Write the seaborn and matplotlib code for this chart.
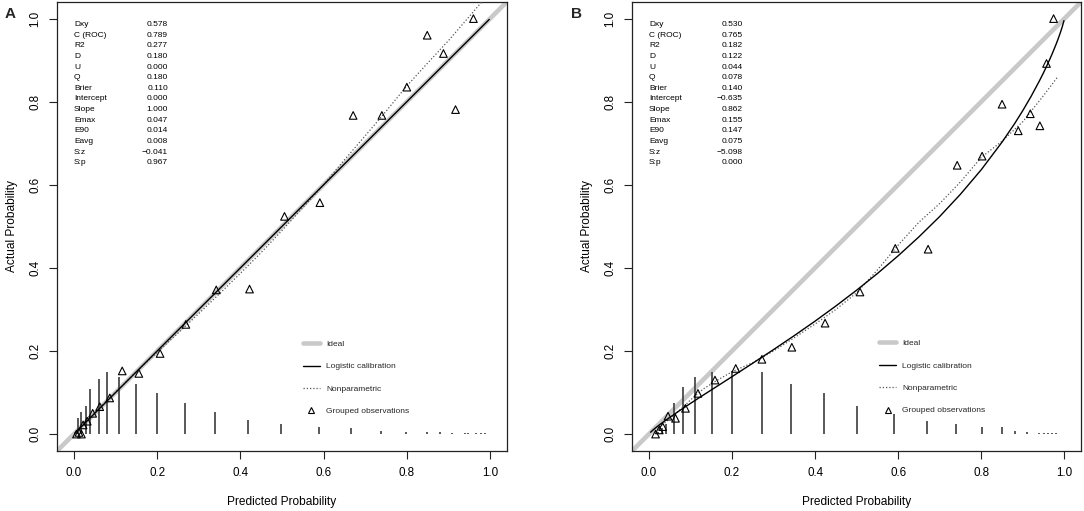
import matplotlib
matplotlib.use("Agg")
import matplotlib.pyplot as plt
from matplotlib.lines import Line2D
import seaborn as sns

# ---------------- data ----------------
stat_names = ["Dxy", "C (ROC)", "R2", "D", "U", "Q", "Brier", "Intercept",
              "Slope", "Emax", "E90", "Eavg", "S:z", "S:p"]
stats_A = [0.578, 0.789, 0.277, 0.180, 0.000, 0.180, 0.110, 0.000,
           1.000, 0.047, 0.014, 0.008, -0.041, 0.967]
stats_B = [0.530, 0.765, 0.182, 0.122, 0.044, 0.078, 0.140, -0.635,
           0.862, 0.155, 0.147, 0.075, -5.098, 0.000]

# grouped observations (triangles)
grp_x_A = [0.006, 0.012, 0.018, 0.022, 0.032, 0.045, 0.062, 0.086, 0.116, 0.156,
           0.207, 0.269, 0.342, 0.422, 0.506, 0.591, 0.671, 0.740, 0.800, 0.849,
           0.888, 0.917, 0.960]
grp_y_A = [0.000, 0.004, 0.000, 0.022, 0.031, 0.050, 0.066, 0.087, 0.152, 0.146,
           0.194, 0.264, 0.347, 0.349, 0.524, 0.557, 0.767, 0.767, 0.835, 0.960,
           0.916, 0.781, 1.000]
grp_x_B = [0.016, 0.025, 0.033, 0.046, 0.064, 0.088, 0.118, 0.159, 0.209, 0.272,
           0.344, 0.424, 0.508, 0.593, 0.672, 0.742, 0.802, 0.850, 0.889, 0.918,
           0.941, 0.957, 0.974]
grp_y_B = [0.000, 0.010, 0.018, 0.043, 0.038, 0.062, 0.098, 0.130, 0.158, 0.180,
           0.209, 0.267, 0.342, 0.447, 0.445, 0.647, 0.669, 0.794, 0.730, 0.771,
           0.742, 0.892, 1.000]

# spike histogram of predicted probabilities
spk_x_A = [0.009, 0.018, 0.029, 0.038, 0.060, 0.079, 0.109, 0.149, 0.199, 0.268,
           0.339, 0.419, 0.498, 0.588, 0.667, 0.739, 0.799, 0.848, 0.879, 0.908,
           0.939, 0.947, 0.967, 0.979, 0.989]
spk_h_A = [0.038, 0.052, 0.068, 0.108, 0.133, 0.149, 0.138, 0.120, 0.100, 0.076,
           0.052, 0.035, 0.024, 0.017, 0.014, 0.008, 0.006, 0.004, 0.004, 0.003,
           0.002, 0.002, 0.002, 0.002, 0.002]
spk_x_B = [0.021, 0.032, 0.042, 0.060, 0.081, 0.111, 0.151, 0.201, 0.271, 0.341,
           0.421, 0.501, 0.590, 0.670, 0.740, 0.801, 0.851, 0.880, 0.911, 0.940,
           0.951, 0.960, 0.970, 0.980]
spk_h_B = [0.006, 0.014, 0.024, 0.076, 0.113, 0.137, 0.149, 0.151, 0.149, 0.121,
           0.100, 0.068, 0.048, 0.032, 0.024, 0.018, 0.016, 0.008, 0.006, 0.003,
           0.003, 0.003, 0.003, 0.003]

# ideal line
ideal_x = [-0.1, 1.1]
ideal_y = [-0.1, 1.1]

# logistic calibration curves
log_x_A = [0.002, 0.25, 0.5, 0.75, 0.998]
log_y_A = [0.002, 0.25, 0.5, 0.75, 0.998]
log_x_B = [0.004, 0.01, 0.02, 0.03, 0.05, 0.075, 0.10, 0.125, 0.15, 0.175, 0.20,
           0.25, 0.30, 0.35, 0.40, 0.45, 0.50, 0.55, 0.60, 0.65, 0.70, 0.75, 0.80,
           0.85, 0.88, 0.90, 0.92, 0.94, 0.95, 0.96, 0.97, 0.98, 0.985, 0.99,
           0.995, 0.999]
log_y_B = [0.0045, 0.0100, 0.0182, 0.0258, 0.0402, 0.0573, 0.0738, 0.0901, 0.1061,
           0.1221, 0.1382, 0.1706, 0.2034, 0.2371, 0.2719, 0.3083, 0.3464, 0.3865,
           0.4292, 0.4748, 0.5238, 0.5775, 0.6364, 0.7028, 0.7469, 0.7788, 0.8131,
           0.8503, 0.8702, 0.8914, 0.9138, 0.9382, 0.9513, 0.9653, 0.9807, 0.9951]

# nonparametric curves
np_x_A = [0.003, 0.05, 0.10, 0.15, 0.20, 0.25, 0.30, 0.35, 0.40, 0.45, 0.50, 0.55,
          0.60, 0.65, 0.70, 0.75, 0.80, 0.85, 0.90, 0.95, 0.99]
np_y_A = [0.002, 0.051, 0.101, 0.150, 0.197, 0.243, 0.290, 0.338, 0.387, 0.437,
          0.490, 0.545, 0.600, 0.660, 0.718, 0.777, 0.838, 0.893, 0.947, 1.005, 1.052]
np_x_B = [0.015, 0.03, 0.05, 0.08, 0.10, 0.13, 0.16, 0.20, 0.25, 0.30, 0.35, 0.40,
          0.45, 0.50, 0.55, 0.60, 0.65, 0.70, 0.75, 0.80, 0.85, 0.90, 0.95, 0.984]
np_y_B = [0.005, 0.020, 0.037, 0.063, 0.082, 0.108, 0.127, 0.150, 0.172, 0.200,
          0.232, 0.265, 0.300, 0.340, 0.395, 0.455, 0.510, 0.555, 0.607, 0.666,
          0.705, 0.752, 0.815, 0.860]

ticks = [0.0, 0.2, 0.4, 0.6, 0.8, 1.0]
tick_labels = ["0.0", "0.2", "0.4", "0.6", "0.8", "1.0"]
legend_labels = ["Ideal", "Logistic calibration", "Nonparametric", "Grouped observations"]

# ---------------- style ----------------
sns.set_theme(style="white")
plt.rcParams["font.family"] = ["Liberation Sans", "DejaVu Sans"]
plt.rcParams["axes.unicode_minus"] = True

W, H = 1084, 511
fig = plt.figure(figsize=(W / 100, H / 100), dpi=100)
fig.patch.set_facecolor("white")

ax_h = 448.7
ax_bottom = (H - 450.7) / H
axA = fig.add_axes([57.3 / W, ax_bottom, 449.4 / W, ax_h / H])
axB = fig.add_axes([632.3 / W, ax_bottom, 448.7 / W, ax_h / H])

EDGE = "#222222"
IDEAL_C = "#c9c9c9"
SPIKE_C = "#444444"


def fmt(v):
    return f"{v:.3f}".replace("-", "\u2212")


def panel(ax, gx, gy, sx, sh, lx, ly, nx, ny, stats, leg_anchor):
    sns.lineplot(x=ideal_x, y=ideal_y, ax=ax, color=IDEAL_C, lw=3.3,
                 estimator=None, sort=False, zorder=1)
    ax.vlines(sx, [0] * len(sx), sh, colors=SPIKE_C, lw=1.25, zorder=2)
    sns.lineplot(x=nx, y=ny, ax=ax, color="#555555", lw=0.9, linestyle=(0, (1, 1.6)),
                 estimator=None, sort=False, zorder=3)
    sns.lineplot(x=lx, y=ly, ax=ax, color="black", lw=1.0,
                 estimator=None, sort=False, zorder=4)
    sns.scatterplot(x=gx, y=gy, ax=ax, marker="^", s=30, facecolor="none",
                    edgecolor="black", linewidth=0.8, zorder=5)

    ax.set_xlim(-0.04, 1.04)
    ax.set_ylim(-0.04, 1.04)
    ax.set_xticks(ticks)
    ax.set_xticklabels(tick_labels)
    ax.set_yticks(ticks)
    ax.set_yticklabels(tick_labels, rotation=90, va="center")
    ax.tick_params(axis="both", direction="out", length=5.8, width=0.8,
                   color=EDGE, labelsize=8.4, pad=5.6, labelcolor="black",
                   bottom=True, left=True)
    for sp in ax.spines.values():
        sp.set_color(EDGE)
        sp.set_linewidth(0.9)
    ax.grid(False)

    ax.set_xlabel("Predicted Probability", fontsize=8.6, color="black")
    ax.xaxis.set_label_coords(0.5, -0.1137)
    ax.xaxis.label.set_va("center")
    ax.set_ylabel("Actual Probability", fontsize=8.6, color="black")
    ax.yaxis.set_label_coords(-0.1008, 0.5)
    ax.yaxis.label.set_va("center")

    # statistics block
    y0 = 0.986
    dy = 10.64 / 415
    for i, (name, val) in enumerate(zip(stat_names, stats)):
        ax.text(0.0, y0 - i * dy, name, fontsize=6.0, ha="left", va="center",
                color="black")
        ax.text(0.226, y0 - i * dy, fmt(val), fontsize=6.0, ha="right",
                va="center", color="black")

    handles = [
        Line2D([], [], color=IDEAL_C, lw=3.3),
        Line2D([], [], color="black", lw=1.0),
        Line2D([], [], color="#555555", lw=0.9, linestyle=(0, (1, 1.6))),
        Line2D([], [], color="black", lw=0, marker="^", markersize=4.5,
               markerfacecolor="none", markeredgecolor="black", markeredgewidth=0.8),
    ]
    ax.legend(handles, legend_labels, loc="upper left", bbox_to_anchor=leg_anchor,
              bbox_transform=ax.transData, frameon=False, fontsize=6.0,
              handlelength=2.05, handletextpad=0.75, labelspacing=1.75,
              borderpad=0, borderaxespad=0, numpoints=1)


panel(axA, grp_x_A, grp_y_A, spk_x_A, spk_h_A, log_x_A, log_y_A, np_x_A, np_y_A,
      stats_A, (0.550, 0.226))
panel(axB, grp_x_B, grp_y_B, spk_x_B, spk_h_B, log_x_B, log_y_B, np_x_B, np_y_B,
      stats_B, (0.554, 0.228))

fig.text(9.7 / W, 1 - 14.5 / H, "A", fontsize=11, fontweight="bold",
         ha="center", va="center")
fig.text(576.7 / W, 1 - 13.5 / H, "B", fontsize=11, fontweight="bold",
         ha="center", va="center")

fig.savefig("out.png", dpi=100, facecolor="white")
